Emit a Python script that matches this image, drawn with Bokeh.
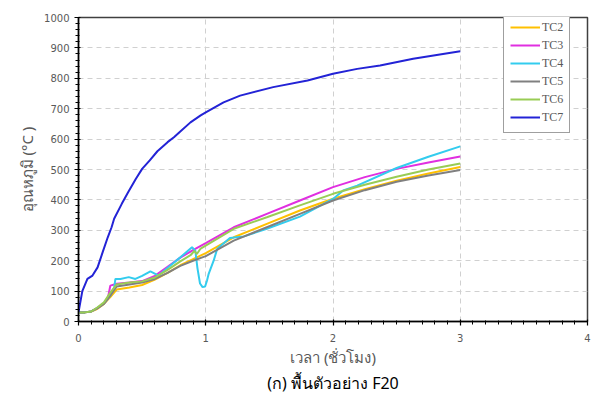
from bokeh.plotting import figure
from bokeh.models import Legend, LegendItem, Range1d, FixedTicker, SingleIntervalTicker
from bokeh.embed import file_html
from bokeh.resources import INLINE

# ---- data (time in hours, temperature in °C) ----
t_tc2 = [0, 0.05, 0.1, 0.15, 0.2, 0.25, 0.3, 0.4, 0.5, 0.6, 0.7, 0.8, 0.9, 1.0, 1.22, 1.48, 1.74, 2.0, 2.25, 2.5, 2.75, 3.0]
v_tc2 = [30, 30, 33, 42, 58, 80, 105, 112, 120, 138, 160, 185, 205, 225, 277, 321, 365, 404, 435, 463, 487, 508]

t_tc3 = [0, 0.05, 0.1, 0.15, 0.2, 0.23, 0.25, 0.3, 0.4, 0.5, 0.6, 0.7, 0.8, 0.9, 1.0, 1.22, 1.48, 1.74, 2.0, 2.25, 2.5, 2.75, 3.0]
v_tc3 = [30, 30, 33, 45, 60, 75, 118, 124, 128, 133, 150, 180, 210, 235, 258, 310, 354, 398, 442, 475, 502, 523, 543]

t_tc4 = [0, 0.05, 0.1, 0.15, 0.2, 0.25, 0.28, 0.29, 0.33, 0.395, 0.447, 0.5, 0.565, 0.63, 0.696, 0.8, 0.892, 0.918, 0.935, 0.955, 0.975, 0.995, 1.01, 1.023, 1.062, 1.09, 1.19, 1.3, 1.48, 1.74, 2.0, 2.08, 2.19, 2.5, 2.75, 3.0]
v_tc4 = [30, 30, 33, 45, 60, 85, 110, 140, 140, 146, 140, 150, 165, 151, 175, 211, 244, 233, 175, 125, 113, 115, 135, 157, 200, 239, 275, 280, 305, 345, 403, 431, 447, 505, 542, 576]

t_tc5 = [0, 0.05, 0.1, 0.15, 0.2, 0.25, 0.3, 0.4, 0.5, 0.6, 0.7, 0.8, 0.9, 1.0, 1.22, 1.48, 1.74, 2.0, 2.25, 2.5, 2.75, 3.0]
v_tc5 = [30, 30, 33, 44, 58, 85, 115, 122, 128, 140, 160, 183, 200, 215, 266, 310, 354, 398, 432, 460, 480, 498]

t_tc6 = [0, 0.05, 0.1, 0.15, 0.2, 0.25, 0.3, 0.4, 0.5, 0.6, 0.7, 0.8, 0.88, 0.91, 0.93, 0.96, 1.22, 1.48, 1.74, 2.0, 2.25, 2.5, 2.75, 3.0]
v_tc6 = [30, 30, 33, 47, 63, 95, 122, 128, 132, 145, 170, 198, 218, 232, 222, 240, 305, 343, 382, 420, 450, 476, 500, 520]

t_tc7 = [0, 0.03, 0.07, 0.11, 0.15, 0.19, 0.23, 0.26, 0.28, 0.34, 0.39, 0.45, 0.5, 0.56, 0.62, 0.7, 0.75, 0.8, 0.88, 0.96, 1.0, 1.14, 1.27, 1.53, 1.8, 2.0, 2.19, 2.37, 2.63, 3.0]
v_tc7 = [30, 100, 140, 151, 178, 228, 277, 310, 338, 387, 425, 469, 502, 530, 560, 590, 606, 625, 655, 678, 688, 721, 743, 771, 793, 815, 831, 842, 864, 889]

series_names = ["TC2", "TC3", "TC4", "TC5", "TC6", "TC7"]
series_colors = ["#FFC000", "#E02FE0", "#33CCEE", "#808080", "#99CC55", "#2323D6"]
series_t = [t_tc2, t_tc3, t_tc4, t_tc5, t_tc6, t_tc7]
series_v = [v_tc2, v_tc3, v_tc4, v_tc5, v_tc6, v_tc7]

x_label = "เวลา (ชั่วโมง)"
y_label = "อุณหภูมิ (°C )"
caption = "(ก) พื้นตัวอย่าง F20"

FONT = "Noto Sans"
GREY = "#595959"

p = figure(width=591, height=394, output_backend="svg", toolbar_location=None,
           x_range=Range1d(0, 4), y_range=Range1d(0, 1000),
           title=caption, title_location="below",
           min_border_left=78, min_border_right=4, min_border_top=17, min_border_bottom=73)

p.title.align = "center"
p.title.text_font = FONT
p.title.text_font_size = "16px"
p.title.text_font_style = "normal"
p.title.text_color = "#000000"
p.title.offset = 0
p.title.standoff = 0

p.outline_line_color = "#404040"
p.outline_line_width = 1.5

p.xaxis.ticker = SingleIntervalTicker(interval=1, num_minor_ticks=10)
p.yaxis.ticker = SingleIntervalTicker(interval=100, num_minor_ticks=5)

for ax in (p.xaxis[0], p.yaxis[0]):
    ax.axis_line_color = "#000000"
    ax.axis_line_width = 1.5
    ax.major_tick_line_color = "#000000"
    ax.minor_tick_line_color = "#000000"
    ax.major_tick_line_width = 1.2
    ax.minor_tick_line_width = 1
    ax.major_tick_out = 4
    ax.major_tick_in = 2
    ax.minor_tick_out = 3
    ax.minor_tick_in = 1
    ax.major_label_text_font = "DejaVu Sans"
    ax.major_label_text_font_size = "10px"
    ax.major_label_text_color = GREY
    ax.axis_label_text_font = FONT
    ax.axis_label_text_font_size = "15px"
    ax.axis_label_text_font_style = "normal"
    ax.axis_label_text_color = GREY

p.xaxis.axis_label = x_label
p.yaxis.axis_label = y_label
p.xaxis.major_label_standoff = 8
p.xaxis.axis_label_standoff = 2
p.yaxis.major_label_standoff = 5
p.yaxis.axis_label_standoff = 4

p.xgrid.ticker = FixedTicker(ticks=[1, 2, 3])
p.ygrid.ticker = FixedTicker(ticks=[100, 200, 300, 400, 500, 600, 700, 800, 900])
for g in (p.xgrid[0], p.ygrid[0]):
    g.grid_line_color = "#D0D0D0"
    g.grid_line_dash = "5 4"
    g.grid_line_width = 1

items = []
for name, col, tt, vv in zip(series_names, series_colors, series_t, series_v):
    r = p.line(tt, vv, line_color=col, line_width=2)
    items.append(LegendItem(label=name, renderers=[r]))

legend = Legend(items=items, location=(425, 188))
legend.border_line_color = "#404040"
legend.border_line_width = 1.5
legend.padding = 6
legend.spacing = 0
legend.margin = 0
legend.glyph_width = 30
legend.glyph_height = 18
legend.label_height = 18
legend.label_standoff = 2
legend.label_text_font = "Liberation Serif"
legend.label_text_font_size = "12px"
legend.label_text_color = GREY
legend.background_fill_alpha = 1
p.add_layout(legend)

open("out.html", "w").write(file_html(p, INLINE))
